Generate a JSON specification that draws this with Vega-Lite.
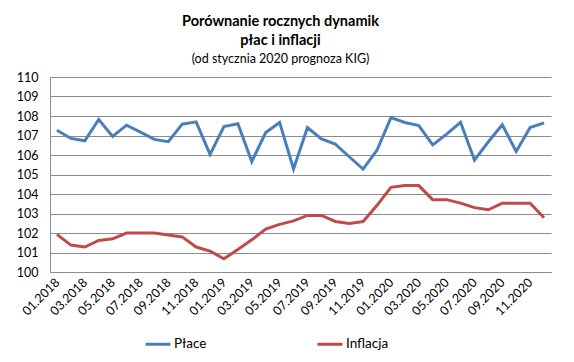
{
  "$schema": "https://vega.github.io/schema/vega-lite/v6.json",
  "width": 501,
  "height": 195,
  "autosize": {"type": "none"},
  "padding": {"left": 50, "top": 77, "right": 23, "bottom": 90},
  "background": "white",
  "config": {
    "font": "Lato",
    "view": {"stroke": null},
    "title": {"font": "Lato"},
    "axis": {"labelFont": "Lato", "titleFont": "Lato"},
    "legend": {"labelFont": "Lato"}
  },
  "title": {
    "text": ["Porównanie rocznych dynamik", "płac i inflacji"],
    "subtitle": "(od stycznia 2020 prognoza KIG)",
    "fontSize": 14.5,
    "fontWeight": "bold",
    "lineHeight": 19,
    "subtitleFontSize": 12.5,
    "subtitleColor": "#000000",
    "subtitlePadding": 4,
    "color": "#000000",
    "anchor": "middle",
    "dx": -20,
    "offset": 5
  },
  "data": {
    "values": [
      {"m": "01.2018", "s": "Płace", "v": 107.27},
      {"m": "02.2018", "s": "Płace", "v": 106.85},
      {"m": "03.2018", "s": "Płace", "v": 106.73},
      {"m": "04.2018", "s": "Płace", "v": 107.82},
      {"m": "05.2018", "s": "Płace", "v": 106.95},
      {"m": "06.2018", "s": "Płace", "v": 107.53},
      {"m": "07.2018", "s": "Płace", "v": 107.17},
      {"m": "08.2018", "s": "Płace", "v": 106.8},
      {"m": "09.2018", "s": "Płace", "v": 106.68},
      {"m": "10.2018", "s": "Płace", "v": 107.58},
      {"m": "11.2018", "s": "Płace", "v": 107.7},
      {"m": "12.2018", "s": "Płace", "v": 106.03},
      {"m": "01.2019", "s": "Płace", "v": 107.46},
      {"m": "02.2019", "s": "Płace", "v": 107.6},
      {"m": "03.2019", "s": "Płace", "v": 105.66},
      {"m": "04.2019", "s": "Płace", "v": 107.15},
      {"m": "05.2019", "s": "Płace", "v": 107.67},
      {"m": "06.2019", "s": "Płace", "v": 105.28},
      {"m": "07.2019", "s": "Płace", "v": 107.41},
      {"m": "08.2019", "s": "Płace", "v": 106.83},
      {"m": "09.2019", "s": "Płace", "v": 106.56},
      {"m": "10.2019", "s": "Płace", "v": 105.91},
      {"m": "11.2019", "s": "Płace", "v": 105.28},
      {"m": "12.2019", "s": "Płace", "v": 106.25},
      {"m": "01.2020", "s": "Płace", "v": 107.92},
      {"m": "02.2020", "s": "Płace", "v": 107.67},
      {"m": "03.2020", "s": "Płace", "v": 107.51},
      {"m": "04.2020", "s": "Płace", "v": 106.52},
      {"m": "05.2020", "s": "Płace", "v": 107.07},
      {"m": "06.2020", "s": "Płace", "v": 107.68},
      {"m": "07.2020", "s": "Płace", "v": 105.74},
      {"m": "08.2020", "s": "Płace", "v": 106.68},
      {"m": "09.2020", "s": "Płace", "v": 107.55},
      {"m": "10.2020", "s": "Płace", "v": 106.18},
      {"m": "11.2020", "s": "Płace", "v": 107.41},
      {"m": "12.2020", "s": "Płace", "v": 107.65},
      {"m": "01.2018", "s": "Inflacja", "v": 101.93},
      {"m": "02.2018", "s": "Inflacja", "v": 101.38},
      {"m": "03.2018", "s": "Inflacja", "v": 101.28},
      {"m": "04.2018", "s": "Inflacja", "v": 101.62},
      {"m": "05.2018", "s": "Inflacja", "v": 101.7},
      {"m": "06.2018", "s": "Inflacja", "v": 102.0},
      {"m": "07.2018", "s": "Inflacja", "v": 102.0},
      {"m": "08.2018", "s": "Inflacja", "v": 102.0},
      {"m": "09.2018", "s": "Inflacja", "v": 101.9},
      {"m": "10.2018", "s": "Inflacja", "v": 101.8},
      {"m": "11.2018", "s": "Inflacja", "v": 101.28},
      {"m": "12.2018", "s": "Inflacja", "v": 101.07},
      {"m": "01.2019", "s": "Inflacja", "v": 100.68},
      {"m": "02.2019", "s": "Inflacja", "v": 101.15},
      {"m": "03.2019", "s": "Inflacja", "v": 101.65},
      {"m": "04.2019", "s": "Inflacja", "v": 102.2},
      {"m": "05.2019", "s": "Inflacja", "v": 102.44},
      {"m": "06.2019", "s": "Inflacja", "v": 102.62},
      {"m": "07.2019", "s": "Inflacja", "v": 102.9},
      {"m": "08.2019", "s": "Inflacja", "v": 102.9},
      {"m": "09.2019", "s": "Inflacja", "v": 102.59},
      {"m": "10.2019", "s": "Inflacja", "v": 102.49},
      {"m": "11.2019", "s": "Inflacja", "v": 102.59},
      {"m": "12.2019", "s": "Inflacja", "v": 103.42},
      {"m": "01.2020", "s": "Inflacja", "v": 104.34},
      {"m": "02.2020", "s": "Inflacja", "v": 104.43},
      {"m": "03.2020", "s": "Inflacja", "v": 104.43},
      {"m": "04.2020", "s": "Inflacja", "v": 103.71},
      {"m": "05.2020", "s": "Inflacja", "v": 103.71},
      {"m": "06.2020", "s": "Inflacja", "v": 103.53},
      {"m": "07.2020", "s": "Inflacja", "v": 103.3},
      {"m": "08.2020", "s": "Inflacja", "v": 103.19},
      {"m": "09.2020", "s": "Inflacja", "v": 103.53},
      {"m": "10.2020", "s": "Inflacja", "v": 103.53},
      {"m": "11.2020", "s": "Inflacja", "v": 103.53},
      {"m": "12.2020", "s": "Inflacja", "v": 102.78}
    ]
  },
  "mark": {"type": "line", "strokeWidth": 3},
  "encoding": {
    "x": {
      "field": "m",
      "type": "ordinal",
      "sort": null,
      "scale": {"type": "point", "padding": 0.5},
      "axis": {
        "title": null,
        "values": ["01.2018", "03.2018", "05.2018", "07.2018", "09.2018", "11.2018", "01.2019", "03.2019", "05.2019", "07.2019", "09.2019", "11.2019", "01.2020", "03.2020", "05.2020", "07.2020", "09.2020", "11.2020"],
        "labelAngle": -45,
        "labelAlign": "right",
        "labelBaseline": "middle",
        "labelFontSize": 12.5,
        "labelColor": "#000000",
        "labelPadding": 8,
        "labelDx": 4,
        "ticks": false,
        "domainColor": "#8c8c8c",
        "domainWidth": 1,
        "grid": false
      }
    },
    "y": {
      "field": "v",
      "type": "quantitative",
      "scale": {"domain": [100, 110], "zero": false, "nice": false},
      "axis": {
        "title": null,
        "values": [100, 101, 102, 103, 104, 105, 106, 107, 108, 109, 110],
        "labelFontSize": 12.5,
        "labelColor": "#000000",
        "labelPadding": 12,
        "ticks": false,
        "domainColor": "#8c8c8c",
        "gridColor": "#8c8c8c",
        "gridWidth": 1
      }
    },
    "color": {
      "field": "s",
      "type": "nominal",
      "scale": {"domain": ["Płace", "Inflacja"], "range": ["#4A7EBB", "#BE4B48"]},
      "legend": {
        "title": null,
        "orient": "none",
        "direction": "horizontal",
        "legendX": 94,
        "legendY": 253,
        "symbolType": "stroke",
        "symbolSize": 625,
        "symbolStrokeWidth": 3,
        "labelFontSize": 13.5,
        "labelColor": "#000000",
        "labelOffset": 2,
        "columnPadding": 104
      }
    }
  }
}
